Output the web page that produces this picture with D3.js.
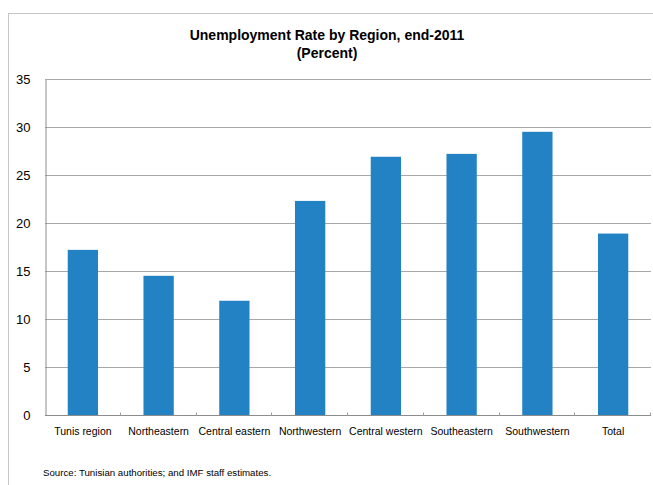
<!DOCTYPE html>
<html>
<head>
<meta charset="utf-8">
<script src="https://cdn.jsdelivr.net/npm/d3@7/dist/d3.min.js"></script>
<style>
  html, body { margin: 0; padding: 0; background: #fff; }
  svg { display: block; }
  text { font-family: "Liberation Sans", Arial, sans-serif; fill: #000; }
</style>
</head>
<body>
<svg id="chart" width="653" height="485"></svg>
<script>
// Unemployment rate by region, end-2011 (percent)
const regions = ["Tunis region", "Northeastern", "Central eastern", "Northwestern",
                 "Central western", "Southeastern", "Southwestern", "Total"];
const rates = [17.2, 14.5, 11.9, 22.3, 26.9, 27.2, 29.5, 18.9];
const yTicks = [0, 5, 10, 15, 20, 25, 30, 35];

const svg = d3.select("#chart");
const plot = { left: 45, right: 651, top: 79, bottom: 415 };

// outer frame (only top and left edges fall inside the page)
svg.append("rect")
  .attr("x", 8.5).attr("y", 13.5)
  .attr("width", 700).attr("height", 520)
  .attr("fill", "none").attr("stroke", "#c6c6c6").attr("stroke-width", 1);

const x = d3.scaleBand().domain(regions).range([plot.left, plot.right])
  .paddingInner(0.6).paddingOuter(0.3);
const xTickScale = d3.scaleBand().domain(regions).range([plot.left, plot.right]).padding(0);
const y = d3.scaleLinear().domain([0, 35]).range([plot.bottom, plot.top]);

// horizontal gridlines
svg.append("g")
  .selectAll("line")
  .data(yTicks.filter(d => d > 0))
  .join("line")
  .attr("x1", plot.left).attr("x2", plot.right)
  .attr("y1", d => Math.round(y(d)) + 0.5).attr("y2", d => Math.round(y(d)) + 0.5)
  .attr("stroke", "#a8a8a8").attr("stroke-width", 1);

// y axis
const yAxis = svg.append("g")
  .attr("transform", `translate(${plot.left + 0.5},0.5)`)
  .call(d3.axisLeft(y).tickValues(yTicks).tickSize(0).tickPadding(15));
yAxis.select(".domain").attr("stroke", "#8c8c8c");
yAxis.selectAll("text")
  .style("font-family", '"Liberation Sans", Arial, sans-serif')
  .style("font-size", "13px").attr("fill", "#000");

// bars
svg.append("g")
  .selectAll("rect")
  .data(regions.map((r, i) => ({ region: r, value: rates[i] })))
  .join("rect")
  .attr("x", d => x(d.region))
  .attr("width", x.bandwidth())
  .attr("y", d => y(d.value))
  .attr("height", d => y(0) - y(d.value))
  .attr("fill", "#2382c3");

// x axis with short inward tick marks at category boundaries
const xAxis = svg.append("g")
  .attr("transform", `translate(0,${plot.bottom + 0.5})`);
xAxis.append("line")
  .attr("x1", plot.left).attr("x2", plot.right)
  .attr("stroke", "#8c8c8c");
xAxis.selectAll("line.tick")
  .data(regions)
  .join("line")
  .attr("class", "tick")
  .attr("x1", (d, i) => Math.round(plot.left + (i + 1) * xTickScale.step()) - 0.5)
  .attr("x2", (d, i) => Math.round(plot.left + (i + 1) * xTickScale.step()) - 0.5)
  .attr("y1", 0).attr("y2", -3)
  .attr("stroke", "#a0a0a0");
xAxis.selectAll("text")
  .data(regions)
  .join("text")
  .attr("x", d => x(d) + x.bandwidth() / 2)
  .attr("y", 19.5)
  .attr("text-anchor", "middle")
  .style("font-size", "10.5px")
  .text(d => d);

// title
svg.append("text")
  .attr("x", 327).attr("y", 40)
  .attr("text-anchor", "middle")
  .style("font-size", "14px").style("font-weight", "bold")
  .text("Unemployment Rate by Region, end-2011");
svg.append("text")
  .attr("x", 327).attr("y", 58)
  .attr("text-anchor", "middle")
  .style("font-size", "14px").style("font-weight", "bold")
  .text("(Percent)");

// source note
svg.append("text")
  .attr("x", 43).attr("y", 476)
  .style("font-size", "9.7px")
  .text("Source: Tunisian authorities; and IMF staff  estimates.");
</script>
</body>
</html>
